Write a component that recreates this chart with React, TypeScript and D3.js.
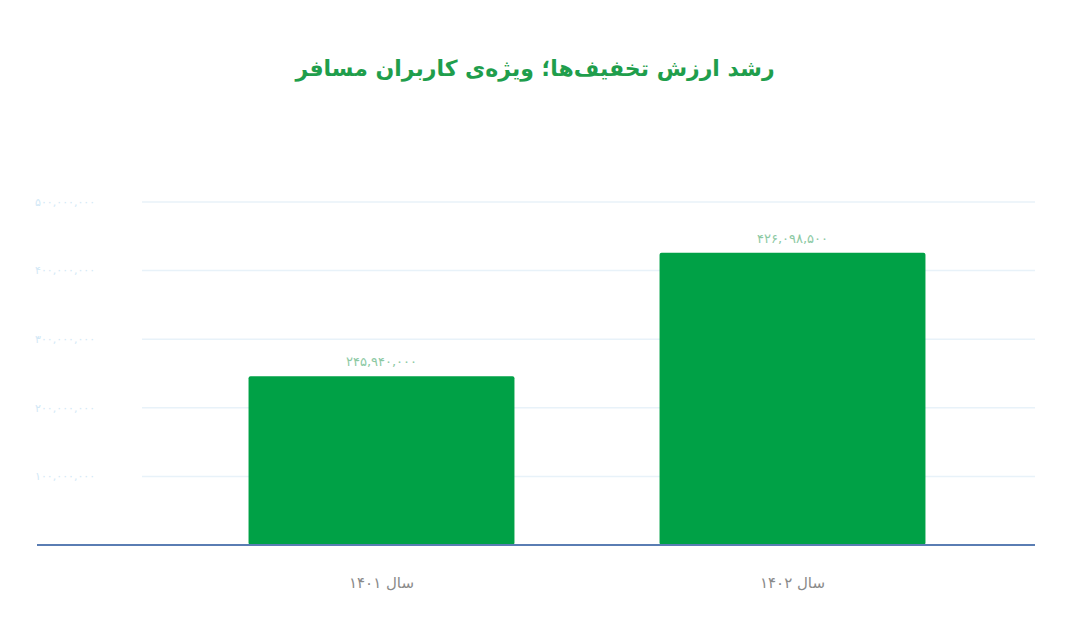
import * as d3 from "d3";

const categories = ["سال ۱۴۰۱", "سال ۱۴۰۲"];
const values = [245940000, 426098500];
const yTicks = [100000000, 200000000, 300000000, 400000000, 500000000];
const title = "رشد ارزش تخفیف‌ها؛ ویژه‌ی کاربران مسافر";

const faDigits = "۰۱۲۳۴۵۶۷۸۹";
const toFa = (s: string) => s.replace(/\d/g, (d) => faDigits[Number(d)]);
const fmt = (v: number) => toFa(d3.format(",")(v));

export default function App() {
  const width = 1080;
  const height = 635;
  const fontFa = "'DejaVu Sans', sans-serif";

  const y = d3.scaleLinear().domain([0, 500000000]).range([545, 202]);
  const x = d3
    .scaleBand<string>()
    .domain(categories)
    .range([176, 998])
    .paddingInner(0.353)
    .paddingOuter(0.1765);

  return (
    <svg
      width={width}
      height={height}
      style={{ position: "absolute", left: 0, top: 0, background: "#fff" }}
    >
      <text
        x={535}
        y={76}
        textAnchor="middle"
        fill="#1f9e4c"
        fontFamily={fontFa}
        fontWeight="bold"
        fontSize={22}
        direction="rtl"
      >
        {title}
      </text>

      {yTicks.map((t) => (
        <g key={t}>
          <line
            x1={142}
            x2={1035}
            y1={y(t)}
            y2={y(t)}
            stroke="#e8f2f9"
            strokeWidth={1.5}
          />
          <text
            x={35}
            y={y(t)}
            dy="0.35em"
            fill="#d2e8f6"
            fontFamily={fontFa}
            fontSize={11}
            letterSpacing={1.2}
          >
            {fmt(t)}
          </text>
        </g>
      ))}

      {categories.map((c, i) => (
        <g key={c}>
          <rect
            x={x(c)}
            y={y(values[i])}
            width={x.bandwidth()}
            height={y(0) - y(values[i])}
            rx={2}
            fill="#00a146"
          />
          <text
            x={(x(c) ?? 0) + x.bandwidth() / 2}
            y={y(values[i]) - 10}
            textAnchor="middle"
            fill="#8cc9a3"
            fontFamily={fontFa}
            fontSize={13}
          >
            {fmt(values[i])}
          </text>
          <text
            x={(x(c) ?? 0) + x.bandwidth() / 2}
            y={588}
            textAnchor="middle"
            fill="#8a8a8a"
            fontFamily={fontFa}
            fontSize={15}
            direction="rtl"
          >
            {c}
          </text>
        </g>
      ))}

      <line x1={37} x2={1035} y1={y(0)} y2={y(0)} stroke="#5a7db3" strokeWidth={2} />
    </svg>
  );
}
